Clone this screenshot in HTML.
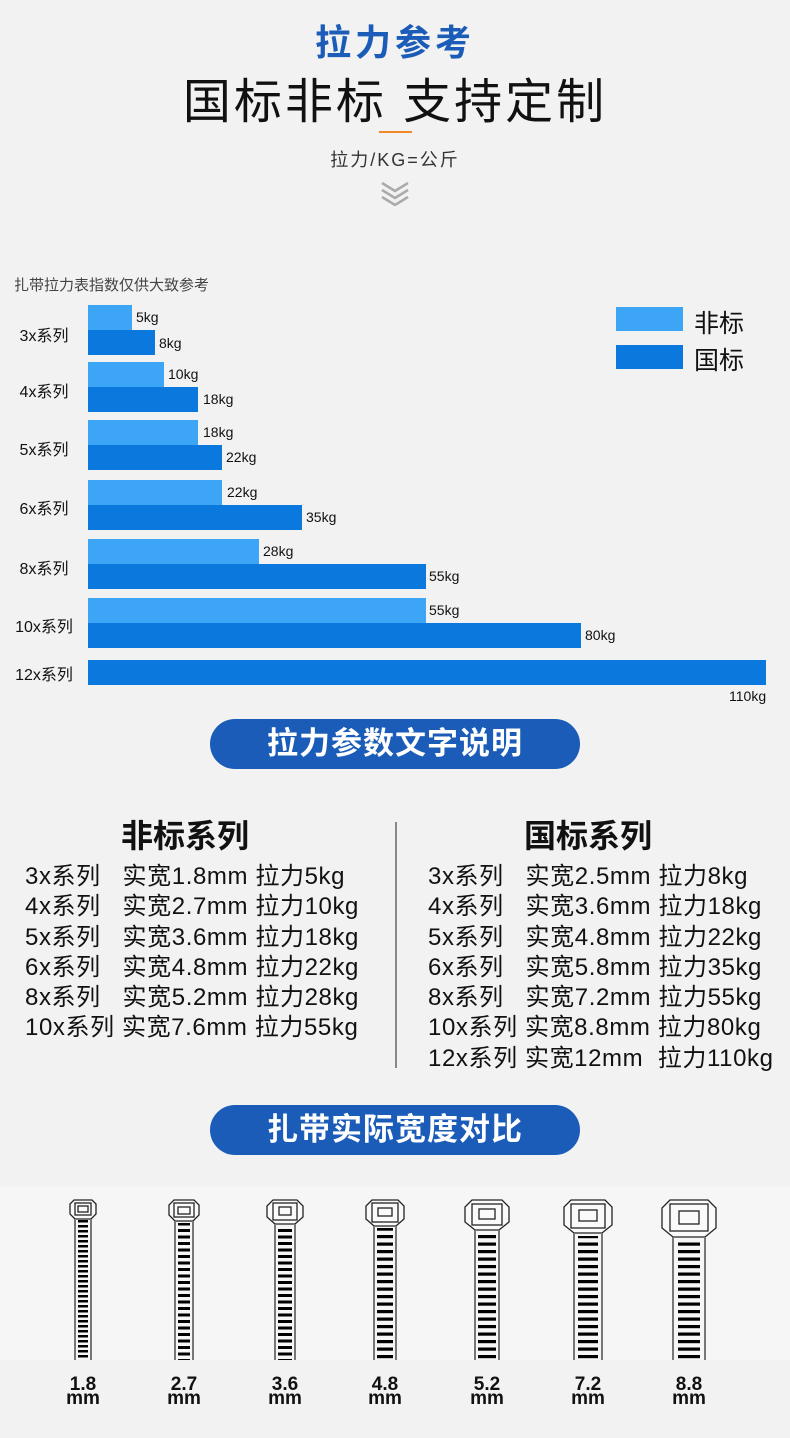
<!DOCTYPE html>
<html><head><meta charset="utf-8"><style>
*{margin:0;padding:0;box-sizing:border-box}
body{width:790px;height:1438px;background:#f2f2f2;position:relative;overflow:hidden;font-family:"Liberation Sans","Noto Sans CJK SC",sans-serif;color:#111}
.a{position:absolute;white-space:nowrap}
.bar{position:absolute;left:88px;height:25px}
.l{background:#3da5f6}.d{background:#0a78dc}
.v{position:absolute;font-size:14px;color:#111}
.lab{position:absolute;left:12px;font-size:16px;width:64px;text-align:center}
.pill{position:absolute;left:210px;width:370px;height:50px;border-radius:25px;background:#1a5cb8;color:#fff;font-size:31px;font-weight:bold;text-align:center;line-height:50px;letter-spacing:1px}
.col{position:absolute;font-size:24px;line-height:30.3px;color:#111;letter-spacing:0.6px}
</style></head><body>
<div class="a" style="left:0;width:790px;top:14px;text-align:center;font-size:36px;font-weight:bold;color:#1a5cb8;letter-spacing:4px">拉力参考</div>
<div class="a" style="left:0;width:790px;top:62px;text-align:center;font-size:48px;letter-spacing:3px">国标非标 支持定制</div>
<div class="a" style="left:379px;top:131px;width:33px;height:2px;background:#f08a28"></div>
<div class="a" style="left:0;width:790px;top:146px;text-align:center;font-size:18px;letter-spacing:2px;color:#333">拉力/KG=公斤</div>
<svg class="a" style="left:380px;top:180px" width="30" height="26"><g fill="none" stroke="#aaa" stroke-width="2.5"><path d="M2 3 L15 11 L28 3"/><path d="M2 10 L15 18 L28 10"/><path d="M2 17 L15 25 L28 17"/></g></svg>
<div class="a" style="left:14px;top:274px;font-size:15px;color:#444">扎带拉力表指数仅供大致参考</div>
<div class="a" style="left:616px;top:307px;width:67px;height:24px;background:#3da5f6"></div>
<div class="a" style="left:616px;top:345px;width:67px;height:24px;background:#0a78dc"></div>
<div class="a" style="left:694px;top:304px;font-size:25px">非标</div>
<div class="a" style="left:694px;top:341px;font-size:25px">国标</div>

<div class="lab" style="top:322px">3x系列</div>
<div class="bar l" style="top:305px;width:44px"></div><div class="v" style="left:136px;top:309px">5kg</div>
<div class="bar d" style="top:330px;width:67px"></div><div class="v" style="left:159px;top:335px">8kg</div>
<div class="lab" style="top:378px">4x系列</div>
<div class="bar l" style="top:362px;width:76px"></div><div class="v" style="left:168px;top:366px">10kg</div>
<div class="bar d" style="top:387px;width:110px"></div><div class="v" style="left:203px;top:391px">18kg</div>
<div class="lab" style="top:436px">5x系列</div>
<div class="bar l" style="top:420px;width:110px"></div><div class="v" style="left:203px;top:424px">18kg</div>
<div class="bar d" style="top:445px;width:134px"></div><div class="v" style="left:226px;top:449px">22kg</div>
<div class="lab" style="top:495px">6x系列</div>
<div class="bar l" style="top:480px;width:134px"></div><div class="v" style="left:227px;top:484px">22kg</div>
<div class="bar d" style="top:505px;width:214px"></div><div class="v" style="left:306px;top:509px">35kg</div>
<div class="lab" style="top:555px">8x系列</div>
<div class="bar l" style="top:539px;width:171px"></div><div class="v" style="left:263px;top:543px">28kg</div>
<div class="bar d" style="top:564px;width:338px"></div><div class="v" style="left:429px;top:568px">55kg</div>
<div class="lab" style="top:613px">10x系列</div>
<div class="bar l" style="top:598px;width:338px"></div><div class="v" style="left:429px;top:602px">55kg</div>
<div class="bar d" style="top:623px;width:493px"></div><div class="v" style="left:585px;top:627px">80kg</div>
<div class="lab" style="top:661px">12x系列</div>
<div class="bar d" style="top:660px;width:678px"></div><div class="v" style="left:729px;top:688px">110kg</div>

<div class="pill" style="top:719px">拉力参数文字说明</div>
<div class="a" style="left:80px;width:210px;text-align:center;top:811px;font-size:32px;font-weight:bold">非标系列</div>
<div class="a" style="left:483px;width:210px;text-align:center;top:811px;font-size:32px;font-weight:bold">国标系列</div>
<div class="a" style="left:395px;top:822px;width:2px;height:246px;background:#888"></div>
<div class="col" style="left:25px;top:862px">3x系列&nbsp;&nbsp;&nbsp;实宽1.8mm 拉力5kg<br>4x系列&nbsp;&nbsp;&nbsp;实宽2.7mm 拉力10kg<br>5x系列&nbsp;&nbsp;&nbsp;实宽3.6mm 拉力18kg<br>6x系列&nbsp;&nbsp;&nbsp;实宽4.8mm 拉力22kg<br>8x系列&nbsp;&nbsp;&nbsp;实宽5.2mm 拉力28kg<br>10x系列 实宽7.6mm 拉力55kg</div>
<div class="col" style="left:428px;top:862px">3x系列&nbsp;&nbsp;&nbsp;实宽2.5mm 拉力8kg<br>4x系列&nbsp;&nbsp;&nbsp;实宽3.6mm 拉力18kg<br>5x系列&nbsp;&nbsp;&nbsp;实宽4.8mm 拉力22kg<br>6x系列&nbsp;&nbsp;&nbsp;实宽5.8mm 拉力35kg<br>8x系列&nbsp;&nbsp;&nbsp;实宽7.2mm 拉力55kg<br>10x系列 实宽8.8mm 拉力80kg<br>12x系列 实宽12mm&nbsp;&nbsp;拉力110kg</div>
<div class="pill" style="top:1105px">扎带实际宽度对比</div>
<div class="a" style="left:0;top:1187px;width:790px;height:173px;background:#f6f6f6"></div>

<svg class="a" style="left:0;top:1190px" width="790" height="170">
<defs>
<pattern id="s1" width="10" height="5" patternUnits="userSpaceOnUse"><rect width="10" height="2.5" fill="#000"/></pattern>
<pattern id="s2" width="10" height="6.5" patternUnits="userSpaceOnUse"><rect width="10" height="3" fill="#000"/></pattern>
<pattern id="s3" width="10" height="7.5" patternUnits="userSpaceOnUse"><rect width="10" height="3.2" fill="#000"/></pattern>
</defs>
<g stroke="#222" stroke-width="1.3" fill="#fafafa">
<g transform="translate(83,0)"><path d="M-9 10 L9 10 L13 14 L13 24 L8 29 L-8 29 L-13 24 L-13 14 Z"/><path d="M-8 29 L-8 170 M8 29 L8 170" stroke="#777" stroke-width="2"/><rect x="-8" y="13" width="16" height="12"/><rect x="-5" y="16" width="10" height="6"/><rect x="-5" y="30" width="10" height="140" fill="url(#s1)" stroke="none"/></g>
<g transform="translate(184,0)"><path d="M-10 10 L10 10 L15 15 L15 25 L9 31 L-9 31 L-15 25 L-15 15 Z"/><path d="M-9 31 L-9 170 M9 31 L9 170" stroke="#777" stroke-width="2"/><rect x="-10" y="13" width="20" height="14"/><rect x="-6" y="17" width="12" height="7"/><rect x="-6" y="33" width="12" height="137" fill="url(#s2)" stroke="none"/></g>
<g transform="translate(285,0)"><path d="M-12 10 L12 10 L18 16 L18 27 L10 34 L-10 34 L-18 27 L-18 16 Z"/><path d="M-10 34 L-10 170 M10 34 L10 170" stroke="#777" stroke-width="2"/><rect x="-12" y="13" width="24" height="17"/><rect x="-6" y="17" width="12" height="8"/><rect x="-7" y="36" width="14" height="134" fill="url(#s2)" stroke="none"/></g>
<g transform="translate(385,0)"><path d="M-13 10 L13 10 L19 16 L19 29 L11 36 L-11 36 L-19 29 L-19 16 Z"/><path d="M-11 36 L-11 170 M11 36 L11 170" stroke="#777" stroke-width="2"/><rect x="-13" y="13" width="26" height="19"/><rect x="-7" y="18" width="14" height="8"/><rect x="-8" y="38" width="16" height="132" fill="url(#s3)" stroke="none"/></g>
<g transform="translate(487,0)"><path d="M-15 10 L15 10 L22 17 L22 32 L12 40 L-12 40 L-22 32 L-22 17 Z"/><path d="M-12 40 L-12 170 M12 40 L12 170" stroke="#777" stroke-width="2"/><rect x="-15" y="14" width="30" height="21"/><rect x="-8" y="19" width="16" height="10"/><rect x="-9" y="42" width="18" height="128" fill="url(#s3)" stroke="none"/></g>
<g transform="translate(588,0)"><path d="M-17 10 L17 10 L24 17 L24 35 L14 43 L-14 43 L-24 35 L-24 17 Z"/><path d="M-14 43 L-14 170 M14 43 L14 170" stroke="#777" stroke-width="2"/><rect x="-17" y="14" width="34" height="24"/><rect x="-9" y="20" width="18" height="11"/><rect x="-10" y="46" width="20" height="124" fill="url(#s3)" stroke="none"/></g>
<g transform="translate(689,0)"><path d="M-19 10 L19 10 L27 18 L27 38 L16 47 L-16 47 L-27 38 L-27 18 Z"/><path d="M-16 47 L-16 170 M16 47 L16 170" stroke="#777" stroke-width="2"/><rect x="-19" y="14" width="38" height="27"/><rect x="-10" y="21" width="20" height="13"/><rect x="-11" y="50" width="22" height="120" fill="url(#s3)" stroke="none"/></g>
</g></svg>
<div class="a" style="left:0;top:1378px;width:790px;height:40px;font-size:19px;font-weight:bold;line-height:14px">
<div class="a" style="left:58px;width:50px;text-align:center">1.8<br>mm</div>
<div class="a" style="left:159px;width:50px;text-align:center">2.7<br>mm</div>
<div class="a" style="left:260px;width:50px;text-align:center">3.6<br>mm</div>
<div class="a" style="left:360px;width:50px;text-align:center">4.8<br>mm</div>
<div class="a" style="left:462px;width:50px;text-align:center">5.2<br>mm</div>
<div class="a" style="left:563px;width:50px;text-align:center">7.2<br>mm</div>
<div class="a" style="left:664px;width:50px;text-align:center">8.8<br>mm</div>
</div>
</body></html>
